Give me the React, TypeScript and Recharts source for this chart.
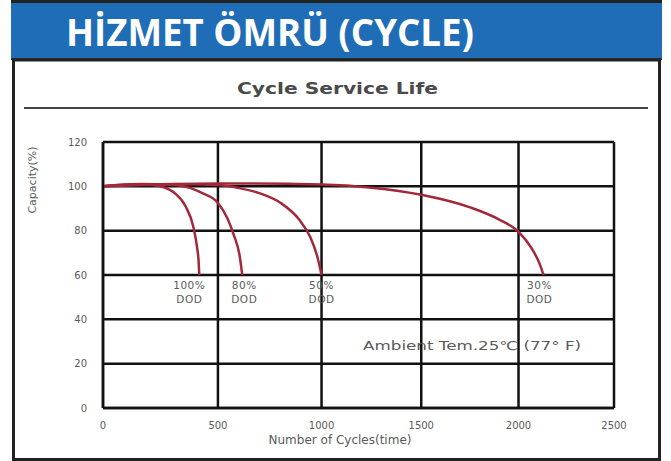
import { LineChart, Line, XAxis, YAxis, CartesianGrid, ReferenceDot } from 'recharts'

// capacity (%) vs cycles
const dod100 = [
  { cycles: 0, capacity: 100 },
  { cycles: 100, capacity: 100.8 },
  { cycles: 200, capacity: 100.6 },
  { cycles: 250, capacity: 99.6 },
  { cycles: 300, capacity: 97 },
  { cycles: 350, capacity: 91 },
  { cycles: 385, capacity: 82 },
  { cycles: 402, capacity: 73 },
  { cycles: 410, capacity: 66 },
  { cycles: 413, capacity: 60 },
]
const dod80 = [
  { cycles: 0, capacity: 100 },
  { cycles: 150, capacity: 101 },
  { cycles: 300, capacity: 100.6 },
  { cycles: 370, capacity: 99.3 },
  { cycles: 430, capacity: 96.8 },
  { cycles: 500, capacity: 92.5 },
  { cycles: 545, capacity: 85.5 },
  { cycles: 575, capacity: 78 },
  { cycles: 602, capacity: 69 },
  { cycles: 615, capacity: 60 },
]
const dod50 = [
  { cycles: 0, capacity: 100 },
  { cycles: 300, capacity: 101 },
  { cycles: 500, capacity: 100.6 },
  { cycles: 600, capacity: 99.2 },
  { cycles: 700, capacity: 96.8 },
  { cycles: 800, capacity: 92.5 },
  { cycles: 890, capacity: 85 },
  { cycles: 945, capacity: 77 },
  { cycles: 980, capacity: 68 },
  { cycles: 1000, capacity: 60 },
]
const dod30 = [
  { cycles: 0, capacity: 100 },
  { cycles: 500, capacity: 101.3 },
  { cycles: 1000, capacity: 100.8 },
  { cycles: 1250, capacity: 99.4 },
  { cycles: 1500, capacity: 96.2 },
  { cycles: 1750, capacity: 90.5 },
  { cycles: 1900, capacity: 85 },
  { cycles: 2000, capacity: 79.5 },
  { cycles: 2065, capacity: 72.5 },
  { cycles: 2110, capacity: 65 },
  { cycles: 2130, capacity: 60 },
]

const series = [
  { name: '100%', data: dod100, dx: -10 },
  { name: '80%', data: dod80, dx: 2 },
  { name: '50%', data: dod50, dx: 0 },
  { name: '30%', data: dod30, dx: -4 },
]

const xTicks = [0, 500, 1000, 1500, 2000, 2500]
const yTicks = [0, 20, 40, 60, 80, 100, 120]

const CURVE = '#a3283a'
const GREY = '#5a5a5a'
const FONT = '"DejaVu Sans", sans-serif'

// the printed grid is a little wider at the left, close to a power scale
function powScale(k: number, d: number[] = [0, 1], r: number[] = [0, 1]): any {
  const s: any = (v: number) => {
    const t = Math.max(0, (v - d[0]) / (d[1] - d[0]))
    return r[0] + (r[1] - r[0]) * Math.pow(t, k)
  }
  s.domain = (nd?: number[]) => (nd ? ((d = [...nd]), s) : d)
  s.range = (nr?: number[]) => (nr ? ((r = [...nr]), s) : r)
  s.copy = () => powScale(k, [...d], [...r])
  s.invert = (p: number) => d[0] + (d[1] - d[0]) * Math.pow((p - r[0]) / (r[1] - r[0]), 1 / k)
  s.ticks = () => xTicks
  s.tickFormat = () => (v: number) => String(v)
  return s
}

function endLabel(name: string, last: number, dx: number) {
  return (props: any) => {
    if (props.index !== last) return null
    const x = props.x + dx
    return (
      <g fontFamily={FONT} fontSize={10.5} fill={GREY} textAnchor="middle" letterSpacing={0.5}>
        <text x={x} y={props.y + 14}>{name}</text>
        <text x={x} y={props.y + 28}>DOD</text>
      </g>
    )
  }
}

const ambient = (props: any) => {
  const vb = props.viewBox || {}
  const cx = (vb.x ?? 0) + (vb.width ?? 0) / 2
  const cy = (vb.y ?? 0) + (vb.height ?? 0) / 2
  return (
    <text x={cx - 109} y={cy + 4} fontFamily={FONT} fontSize={12} fill={GREY} textLength={218} lengthAdjust="spacingAndGlyphs">
      Ambient Tem.25℃ (77° F)
    </text>
  )
}

export default function App() {
  return (
    <div style={{ position: 'relative', width: 671, height: 461, background: '#fff', overflow: 'hidden' }}>
      <style>{'body{margin:0}'}</style>

      <LineChart
        width={671}
        height={461}
        margin={{ top: 142, right: 57, bottom: 23, left: 63 }}
        style={{ position: 'absolute', left: 0, top: 0 }}
      >
        <CartesianGrid stroke="#111" strokeWidth={2.5} />
        <XAxis
          dataKey="cycles"
          type="number"
          domain={[0, 2500]}
          ticks={xTicks}
          scale={powScale(0.927)}
          allowDuplicatedCategory={false}
          tick={{ fontSize: 10, fill: GREY, fontFamily: FONT }}
          tickLine={false}
          axisLine={{ stroke: '#111', strokeWidth: 2.5 }}
          tickMargin={8}
          height={30}
        />
        <YAxis
          dataKey="capacity"
          type="number"
          domain={[0, 120]}
          ticks={yTicks}
          tick={{ fontSize: 10, fill: GREY, fontFamily: FONT }}
          tickLine={false}
          axisLine={{ stroke: '#111', strokeWidth: 2.5 }}
          tickMargin={10}
          width={40}
        />
        {series.map((s) => (
          <Line
            key={s.name}
            data={s.data}
            dataKey="capacity"
            type="monotone"
            stroke={CURVE}
            strokeWidth={2.5}
            dot={false}
            isAnimationActive={false}
            label={endLabel(s.name, s.data.length - 1, s.dx)}
          />
        ))}
        <ReferenceDot x={1760} y={28} r={0} label={ambient} />
      </LineChart>

      {/* header band */}
      <div style={{ position: 'absolute', left: 11, top: 0, width: 651, height: 60, background: '#1f6db6', borderTop: '3px solid #222', borderBottom: '2px solid #333', boxSizing: 'border-box' }} />
      <svg width={671} height={461} style={{ position: 'absolute', left: 0, top: 0, pointerEvents: 'none' }}>
        <text x={66} y={46} fill="#fff" fontFamily='"Open Sans", sans-serif' fontWeight={700} fontSize={38} textLength={408} lengthAdjust="spacingAndGlyphs">
          HİZMET ÖMRÜ (CYCLE)
        </text>
        {/* outer frame */}
        <rect x={13.5} y={60} width={646} height={399.5} fill="none" stroke="#222" strokeWidth={3} />
        <text x={237} y={94} fill="#4a4a4a" fontFamily={FONT} fontWeight={700} fontSize={16} textLength={201} lengthAdjust="spacingAndGlyphs">
          Cycle Service Life
        </text>
        <line x1={24} y1={108} x2={648} y2={108} stroke="#444" strokeWidth={2} />
        <text x={36} y={180} fill={GREY} fontFamily={FONT} fontSize={11} textAnchor="middle" transform="rotate(-90 36 180)">
          Capacity(%)
        </text>
        <text x={340} y={444} fill={GREY} fontFamily={FONT} fontSize={12} textAnchor="middle">
          Number of Cycles(time)
        </text>
      </svg>
    </div>
  )
}
